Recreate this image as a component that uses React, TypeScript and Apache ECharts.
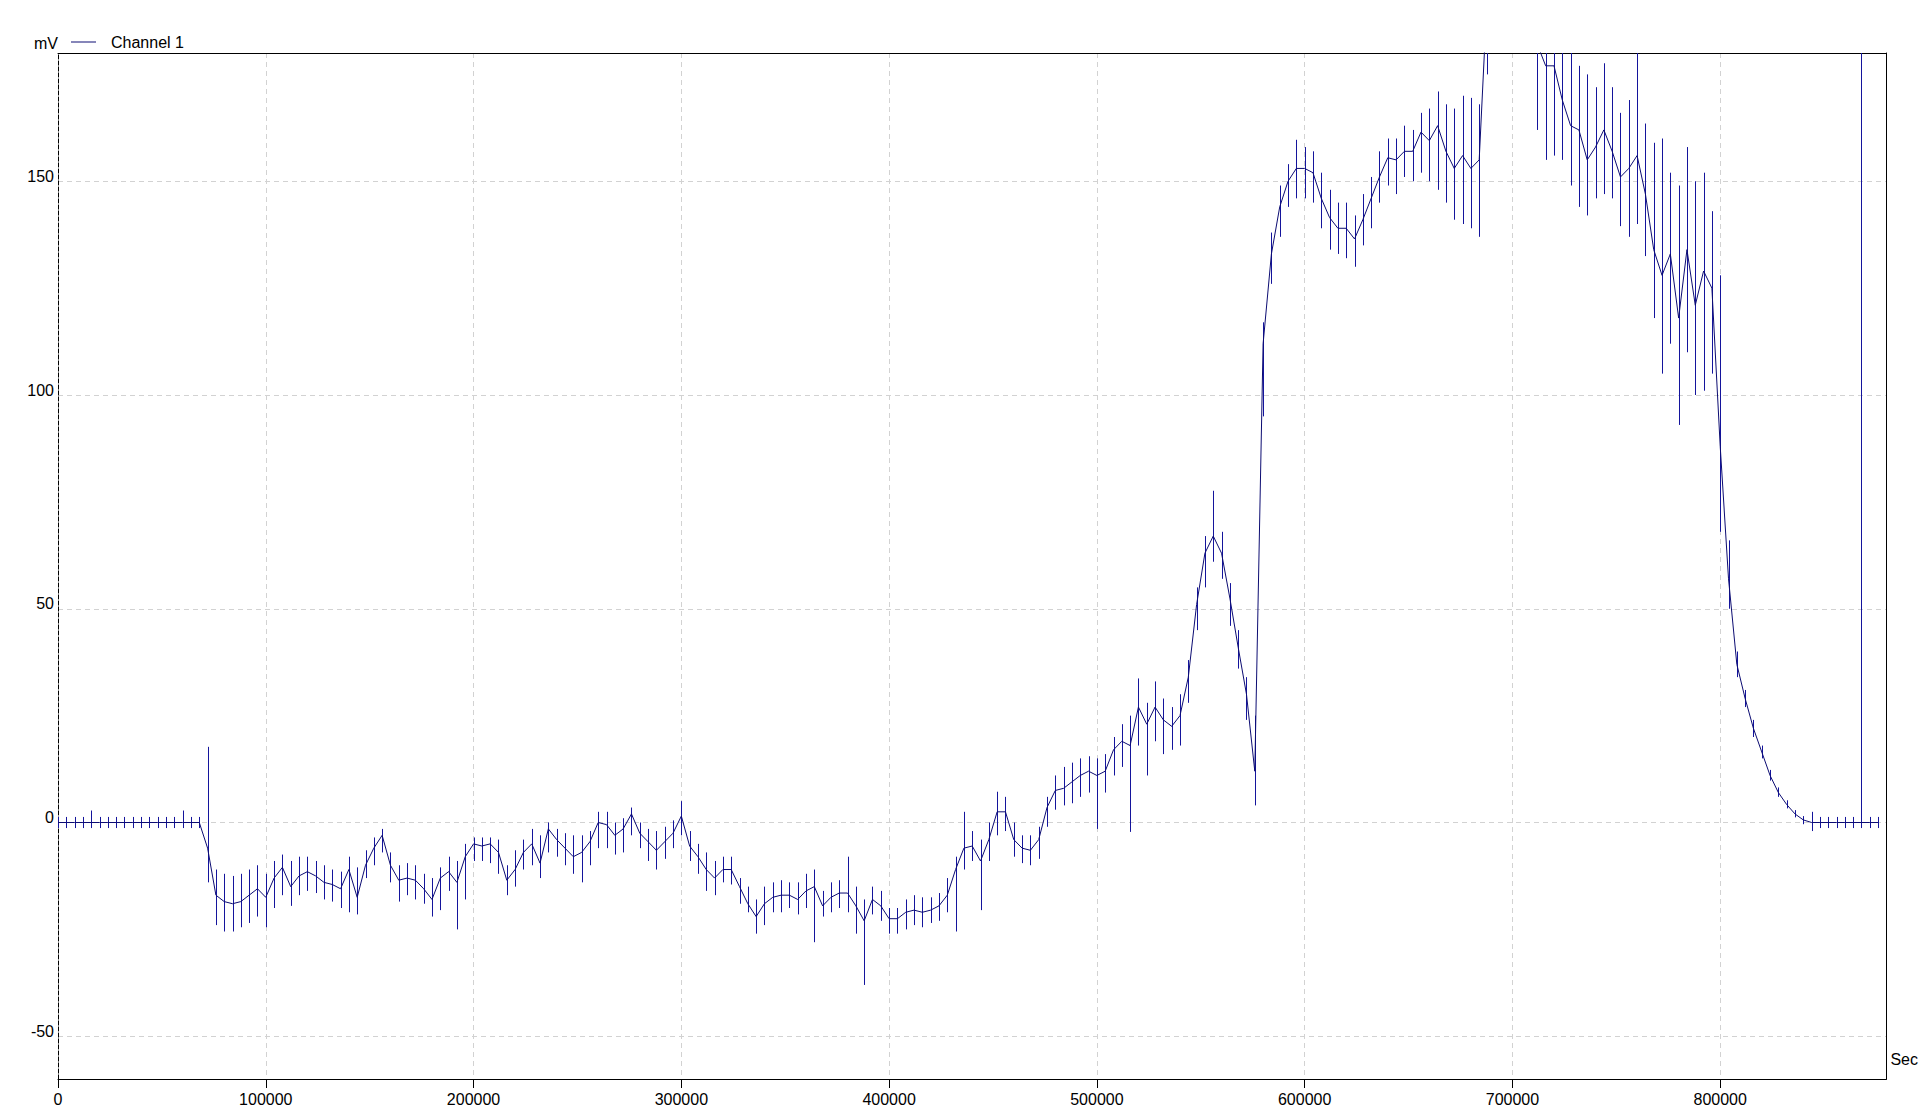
import React, { useEffect, useRef } from "react";
import * as echarts from "echarts";

// ---- data ----
const SERIES_NAME = "Channel 1";
const SAMPLE_STEP = 4000; // Sec between recorded samples
const X_MIN = 0;
const X_MAX = 880000;
const Y_MIN = -60;
const Y_MAX = 180;
const X_TICKS = [0, 100000, 200000, 300000, 400000, 500000, 600000, 700000, 800000];
const Y_TICKS = [-50, 0, 50, 100, 150];

// mean value of each sample (mV)
const MID = [
  0, 0, 0, 0, 0, 0, 0, 0, 0, 0,
  0, 0, 0, 0, 0, 0, 0, 0, -6, -17,
  -18.5, -19, -18.5, -17, -15.5, -17.5, -13, -10.5, -15, -12.5,
  -11.5, -12.5, -14, -14.5, -15.5, -11, -17.5, -10, -6, -3,
  -10, -13.5, -13, -13.5, -15.5, -18, -13, -11.5, -14, -8,
  -5, -5.5, -5, -7, -13.5, -11, -7, -5, -9.5, -1.5,
  -4, -6, -8, -7, -4.5, 0, -0.5, -3, -1.5, 2,
  -2.5, -4.5, -6.5, -4.5, -2.5, 1.5, -5.5, -8, -11, -13,
  -11, -11, -15, -19, -22, -19, -17.5, -17, -17, -18,
  -16, -15, -19.5, -17.5, -16.5, -16.5, -19.5, -23, -18, -19.5,
  -22.5, -22.5, -21, -20.5, -21, -20.5, -19.5, -17, -11, -6,
  -5.5, -9, -4, 2.5, 2.5, -4, -6, -6.5, -4, 3.5,
  7.5, 8, 9.5, 11, 12, 11, 12, 17, 19, 18,
  27, 23, 27, 24, 22.5, 25, 34, 51, 63, 67,
  63, 52.5, 41, 30, 12, 112, 133, 144, 150, 153,
  153, 152, 146, 141.5, 139, 139, 136.5, 141, 146, 151,
  155.5, 155, 157, 157, 161.5, 159.5, 163, 157, 153, 156,
  153, 155, 195, 200, 200, 200, 200, 200, 182, 177,
  177, 169, 163, 162, 155, 158, 162, 157, 151, 153,
  156, 147, 134, 128, 133, 118, 134, 121, 129, 125,
  88, 57, 37, 29, 22, 16.5, 11, 7, 4.2, 2,
  0.6, 0, 0, 0, 0, 0, 0, 0, 0, 0,
];

// lowest value within each sample (mV)
const LOW = [
  -1.3, -1.3, -1.3, -1.3, -1.3, -1.3, -1.3, -1.3, -1.3, -1.3,
  -1.3, -1.3, -1.3, -1.3, -1.3, -1.3, -1.3, -1.3, -14, -24,
  -25.5, -25.5, -24.5, -23.5, -22, -24.5, -20, -17, -19.5, -17,
  -16, -16.5, -18, -18.5, -20, -21, -21.5, -13, -10, -7,
  -14, -18.5, -17, -18, -19, -22, -20.5, -16, -25, -18,
  -9, -9, -9.5, -12, -17, -15, -11, -10, -13, -7,
  -8, -10, -12, -14, -10, -6, -6, -7.5, -7, -3,
  -6, -9, -11, -8.5, -6, -3, -9, -12, -16, -17,
  -14, -14.5, -19, -21, -26, -24, -21, -21, -20, -21.5,
  -20, -28, -22, -21, -20, -21, -26, -38, -21.5, -23,
  -26, -26, -25, -24, -24.5, -23.5, -23, -21, -25.5, -11,
  -9, -20.5, -9, -3, -2, -8, -9.5, -10, -8.5, -1,
  3, 4, 4.5, 6, 7, -1.5, 7, 11, 13, -2.2,
  18, 11, 19, 16, 17, 18, 28, 45, 55, 61,
  57, 46, 36, 24, 4, 95, 126, 137, 144, 146,
  146, 145, 139, 134, 133, 132, 130, 135, 139, 145,
  149, 147, 151, 150, 152, 150, 148, 145, 141, 140,
  139, 137, 175, 190, 190, 190, 190, 190, 162, 155,
  156, 155, 149, 144, 142, 146, 147, 146, 139.5, 137,
  140, 132.5, 118, 105, 112, 93, 110, 100, 101, 105,
  68, 50, 34, 27, 20, 15, 9.8, 6, 3.3, 1.2,
  -0.4, -2, -1.3, -1.3, -1.3, -1.3, -1.3, -1.3, -1.3, -1.3,
];

// highest value within each sample (mV)
const HIGH = [
  1.3, 1.3, 1.3, 1.3, 2.8, 1.3, 1.3, 1.3, 1.3, 1.3,
  1.3, 1.3, 1.3, 1.3, 1.3, 2.8, 1.3, 1.3, 17.7, -11,
  -12, -12.5, -12, -11, -10, -12, -9, -7.5, -9, -8,
  -8, -9, -10, -11, -11.5, -8, -10.5, -6.5, -3.5, -1.5,
  -7, -10, -9.5, -10, -12, -13, -10.5, -8, -9, -5,
  -3.5, -3.5, -3.5, -4, -10, -6.5, -4, -1.5, -3, 0,
  -1.5, -2.5, -3, -3, -2, 2.5, 2.5, 0, 1, 3.5,
  0, -1.5, -2, -1, 0.5, 5, -2, -5, -7, -9,
  -8, -8, -13, -15, -18, -15, -14, -13.5, -14, -14,
  -12, -11, -16, -14, -13.5, -8, -15, -18, -15, -16,
  -20, -20, -18, -17, -17.5, -17.5, -16.5, -13, -8, 2.5,
  -2, -4, 0, 7.2, 6, 0, -3, -3, -1, 6,
  11, 13, 14, 15, 15.5, 15, 16, 20, 23, 25,
  33.7, 28, 33, 29, 27, 30, 38, 55, 67, 77.6,
  68, 56, 45, 34, 25, 117, 138, 149, 154, 159.7,
  158, 157, 152, 148, 145, 145, 142, 147, 151, 157,
  160, 160, 163, 162, 166, 167, 171, 168, 167, 170,
  169.5, 168, 210, 210, 210, 210, 210, 210, 200, 195,
  195, 195, 181, 177, 175, 172, 177.6, 172, 166, 169,
  200, 163.5, 159, 160, 152, 149, 158, 150, 152, 143,
  128, 66, 40, 31, 24, 18, 12.3, 8.2, 5.2, 2.9,
  1.5, 2.5, 1.3, 1.3, 1.3, 1.3, 1.3, 200, 1.3, 1.3,
];

// ---- styles ----
const LINE_COLOR = "#0c0c72";
const SPIKE_COLOR = "#14149c";
const GRID_COLOR = "#d2d2d2";
const FONT = "'Liberation Sans', Arial, sans-serif";

export default function App() {
  const ref = useRef<HTMLDivElement>(null);

  useEffect(() => {
    if (!ref.current) return;
    const chart = echarts.init(ref.current, undefined, { renderer: "svg" });

    const lineData = MID.map((v, i) => [i * SAMPLE_STEP, v]);
    const spikeData = MID.map((_, i) => [i * SAMPLE_STEP, LOW[i], HIGH[i]]);

    const option: any = {
      animation: false,
      backgroundColor: "#ffffff",
      textStyle: { fontFamily: FONT },
      grid: { left: 58, right: 32, top: 53, bottom: 41, containLabel: false },
      legend: {
        show: true,
        data: [SERIES_NAME],
        left: 71,
        top: 34,
        padding: 0,
        icon: "rect",
        itemWidth: 25,
        itemHeight: 1,
        selectedMode: false,
        textStyle: { fontSize: 16, color: "#000", fontFamily: FONT, padding: [0, 0, 0, 10] },
      },
      xAxis: [
        {
          type: "value",
          min: X_MIN,
          max: X_MAX,
          interval: 100000,
          name: "Sec",
          nameLocation: "end",
          nameGap: 4,
          nameTextStyle: {
            fontSize: 16,
            color: "#000",
            fontFamily: FONT,
            align: "left",
            verticalAlign: "bottom",
            padding: [0, 0, 12, 0],
          },
          axisLine: { show: true, onZero: false, lineStyle: { color: "#000", width: 1 } },
          axisTick: { show: true, length: 9, customValues: X_TICKS, lineStyle: { color: "#000" } },
          axisLabel: {
            show: true,
            margin: 12,
            fontSize: 16,
            color: "#000",
            fontFamily: FONT,
            formatter: (v: number) => (X_TICKS.includes(v) ? String(v) : ""),
          },
          splitLine: { show: true, lineStyle: { color: GRID_COLOR, type: [5, 4], width: 1 } },
        },
        {
          type: "value",
          position: "top",
          min: X_MIN,
          max: X_MAX,
          axisLine: { show: true, onZero: false, lineStyle: { color: "#000", width: 1 } },
          axisTick: { show: false },
          axisLabel: { show: false },
          splitLine: { show: false },
        },
      ],
      yAxis: [
        {
          type: "value",
          min: Y_MIN,
          max: Y_MAX,
          name: "mV",
          nameLocation: "end",
          nameGap: 10,
          nameTextStyle: {
            fontSize: 16,
            color: "#000",
            fontFamily: FONT,
            align: "right",
            verticalAlign: "middle",
          },
          axisLine: { show: true, onZero: false, lineStyle: { color: "#000", width: 1, type: [4, 2] } },
          axisTick: { show: false },
          axisLabel: {
            show: true,
            margin: 4,
            fontSize: 16,
            color: "#000",
            fontFamily: FONT,
            verticalAlign: "bottom",
            lineHeight: 10,
            formatter: (v: number) => (Y_TICKS.includes(v) ? String(v) : ""),
          },
          splitLine: { show: true, lineStyle: { color: GRID_COLOR, type: [5, 4], width: 1 } },
        },
        {
          type: "value",
          position: "right",
          min: Y_MIN,
          max: Y_MAX,
          axisLine: { show: true, onZero: false, lineStyle: { color: "#000", width: 1 } },
          axisTick: { show: false },
          axisLabel: { show: false },
          splitLine: { show: false },
        },
      ],
      series: [
        {
          name: "spikes",
          type: "custom",
          xAxisIndex: 0,
          yAxisIndex: 0,
          clip: true,
          silent: true,
          encode: { x: 0, y: [1, 2] },
          data: spikeData,
          renderItem: (params: any, api: any) => {
            const t = api.value(0);
            const a = api.coord([t, api.value(1)]);
            const b = api.coord([t, api.value(2)]);
            const x = Math.round(a[0]) + 0.5;
            return {
              type: "line",
              shape: { x1: x, y1: a[1], x2: x, y2: b[1] },
              style: { stroke: SPIKE_COLOR, lineWidth: 1 },
            };
          },
          z: 2,
        },
        {
          name: SERIES_NAME,
          type: "line",
          xAxisIndex: 0,
          yAxisIndex: 0,
          data: lineData,
          showSymbol: false,
          symbol: "none",
          clip: true,
          silent: true,
          color: LINE_COLOR,
          itemStyle: { color: LINE_COLOR },
          lineStyle: { color: LINE_COLOR, width: 1 },
          z: 3,
        },
      ],
    };

    chart.setOption(option);
    return () => chart.dispose();
  }, []);

  return (
    <div
      ref={ref}
      style={{ position: "fixed", left: 0, top: 0, width: 1921, height: 1120, background: "#fff" }}
    />
  );
}
